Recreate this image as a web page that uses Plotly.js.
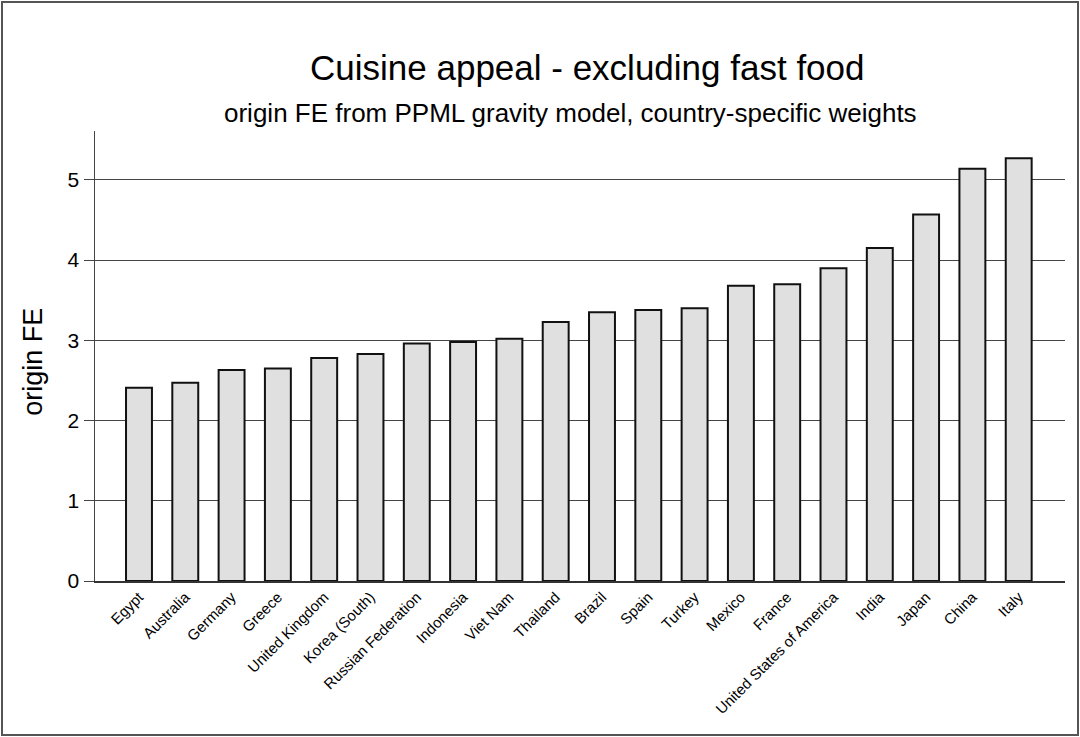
<!DOCTYPE html>
<html>
<head>
<meta charset="utf-8">
<script src="https://cdn.plot.ly/plotly-3.0.1.min.js"></script>
<style>
html,body{margin:0;padding:0;background:#fff;}
#wrap{position:relative;width:1080px;height:737px;}
#chart{width:1080px;height:737px;}
#frame{position:absolute;left:1px;top:1px;right:1px;bottom:1px;border:2px solid #555;pointer-events:none;}
</style>
</head>
<body>
<div id="wrap"><div id="chart"></div><div id="frame"></div></div>
<script>
const countries = ["Egypt","Australia","Germany","Greece","United Kingdom","Korea (South)","Russian Federation","Indonesia","Viet Nam","Thailand","Brazil","Spain","Turkey","Mexico","France","United States of America","India","Japan","China","Italy"];
const originFE = [2.41,2.47,2.63,2.65,2.78,2.83,2.96,2.98,3.02,3.23,3.35,3.38,3.40,3.68,3.70,3.90,4.15,4.57,5.14,5.27];
const yTicks = [0,1,2,3,4,5];

const trace = {
  type: 'bar',
  x: countries,
  y: originFE,
  width: 0.56,
  marker: {color: '#e0e0e0', line: {color: '#111', width: 2}},
  hoverinfo: 'x+y'
};

const layout = {
  width: 1080, height: 737,
  margin: {l: 95, r: 15, t: 131, b: 156},
  paper_bgcolor: '#fff', plot_bgcolor: '#fff',
  font: {family: 'Liberation Sans, Arial, sans-serif', color: '#000'},
  showlegend: false,
  xaxis: {
    type: 'category',
    range: [-0.95, 20.0],
    tickangle: -45,
    tickfont: {size: 15, color: '#000'},
    showgrid: false,
    showline: true, linecolor: '#333', linewidth: 1.5,
    ticks: '', zeroline: false
  },
  yaxis: {
    range: [0, 5.61],
    tickvals: yTicks,
    ticktext: yTicks.map(String),
    tickfont: {size: 21, color: '#000'},
    ticks: 'outside', ticklen: 10, tickcolor: '#444', tickwidth: 1,
    showgrid: true, gridcolor: '#444', gridwidth: 1,
    showline: true, linecolor: '#444', linewidth: 1.5,
    zeroline: false
  },
  annotations: [
    {text: 'Cuisine appeal - excluding fast food', xref: 'paper', yref: 'paper', x: 0.508, y: 1.0, yshift: 64, showarrow: false, xanchor: 'center', yanchor: 'middle', font: {size: 35, color: '#000'}},
    {text: 'origin FE from PPML gravity model, country-specific weights', xref: 'paper', yref: 'paper', x: 0.49, y: 1.0, yshift: 18, showarrow: false, xanchor: 'center', yanchor: 'middle', font: {size: 26, color: '#000'}},
    {text: 'origin FE', xref: 'paper', yref: 'paper', x: -0.064, y: 0.487, textangle: -90, showarrow: false, xanchor: 'center', yanchor: 'middle', font: {size: 27, color: '#000'}}
  ]
};

Plotly.newPlot('chart', [trace], layout, {displayModeBar: false, staticPlot: true});
</script>
</body>
</html>
